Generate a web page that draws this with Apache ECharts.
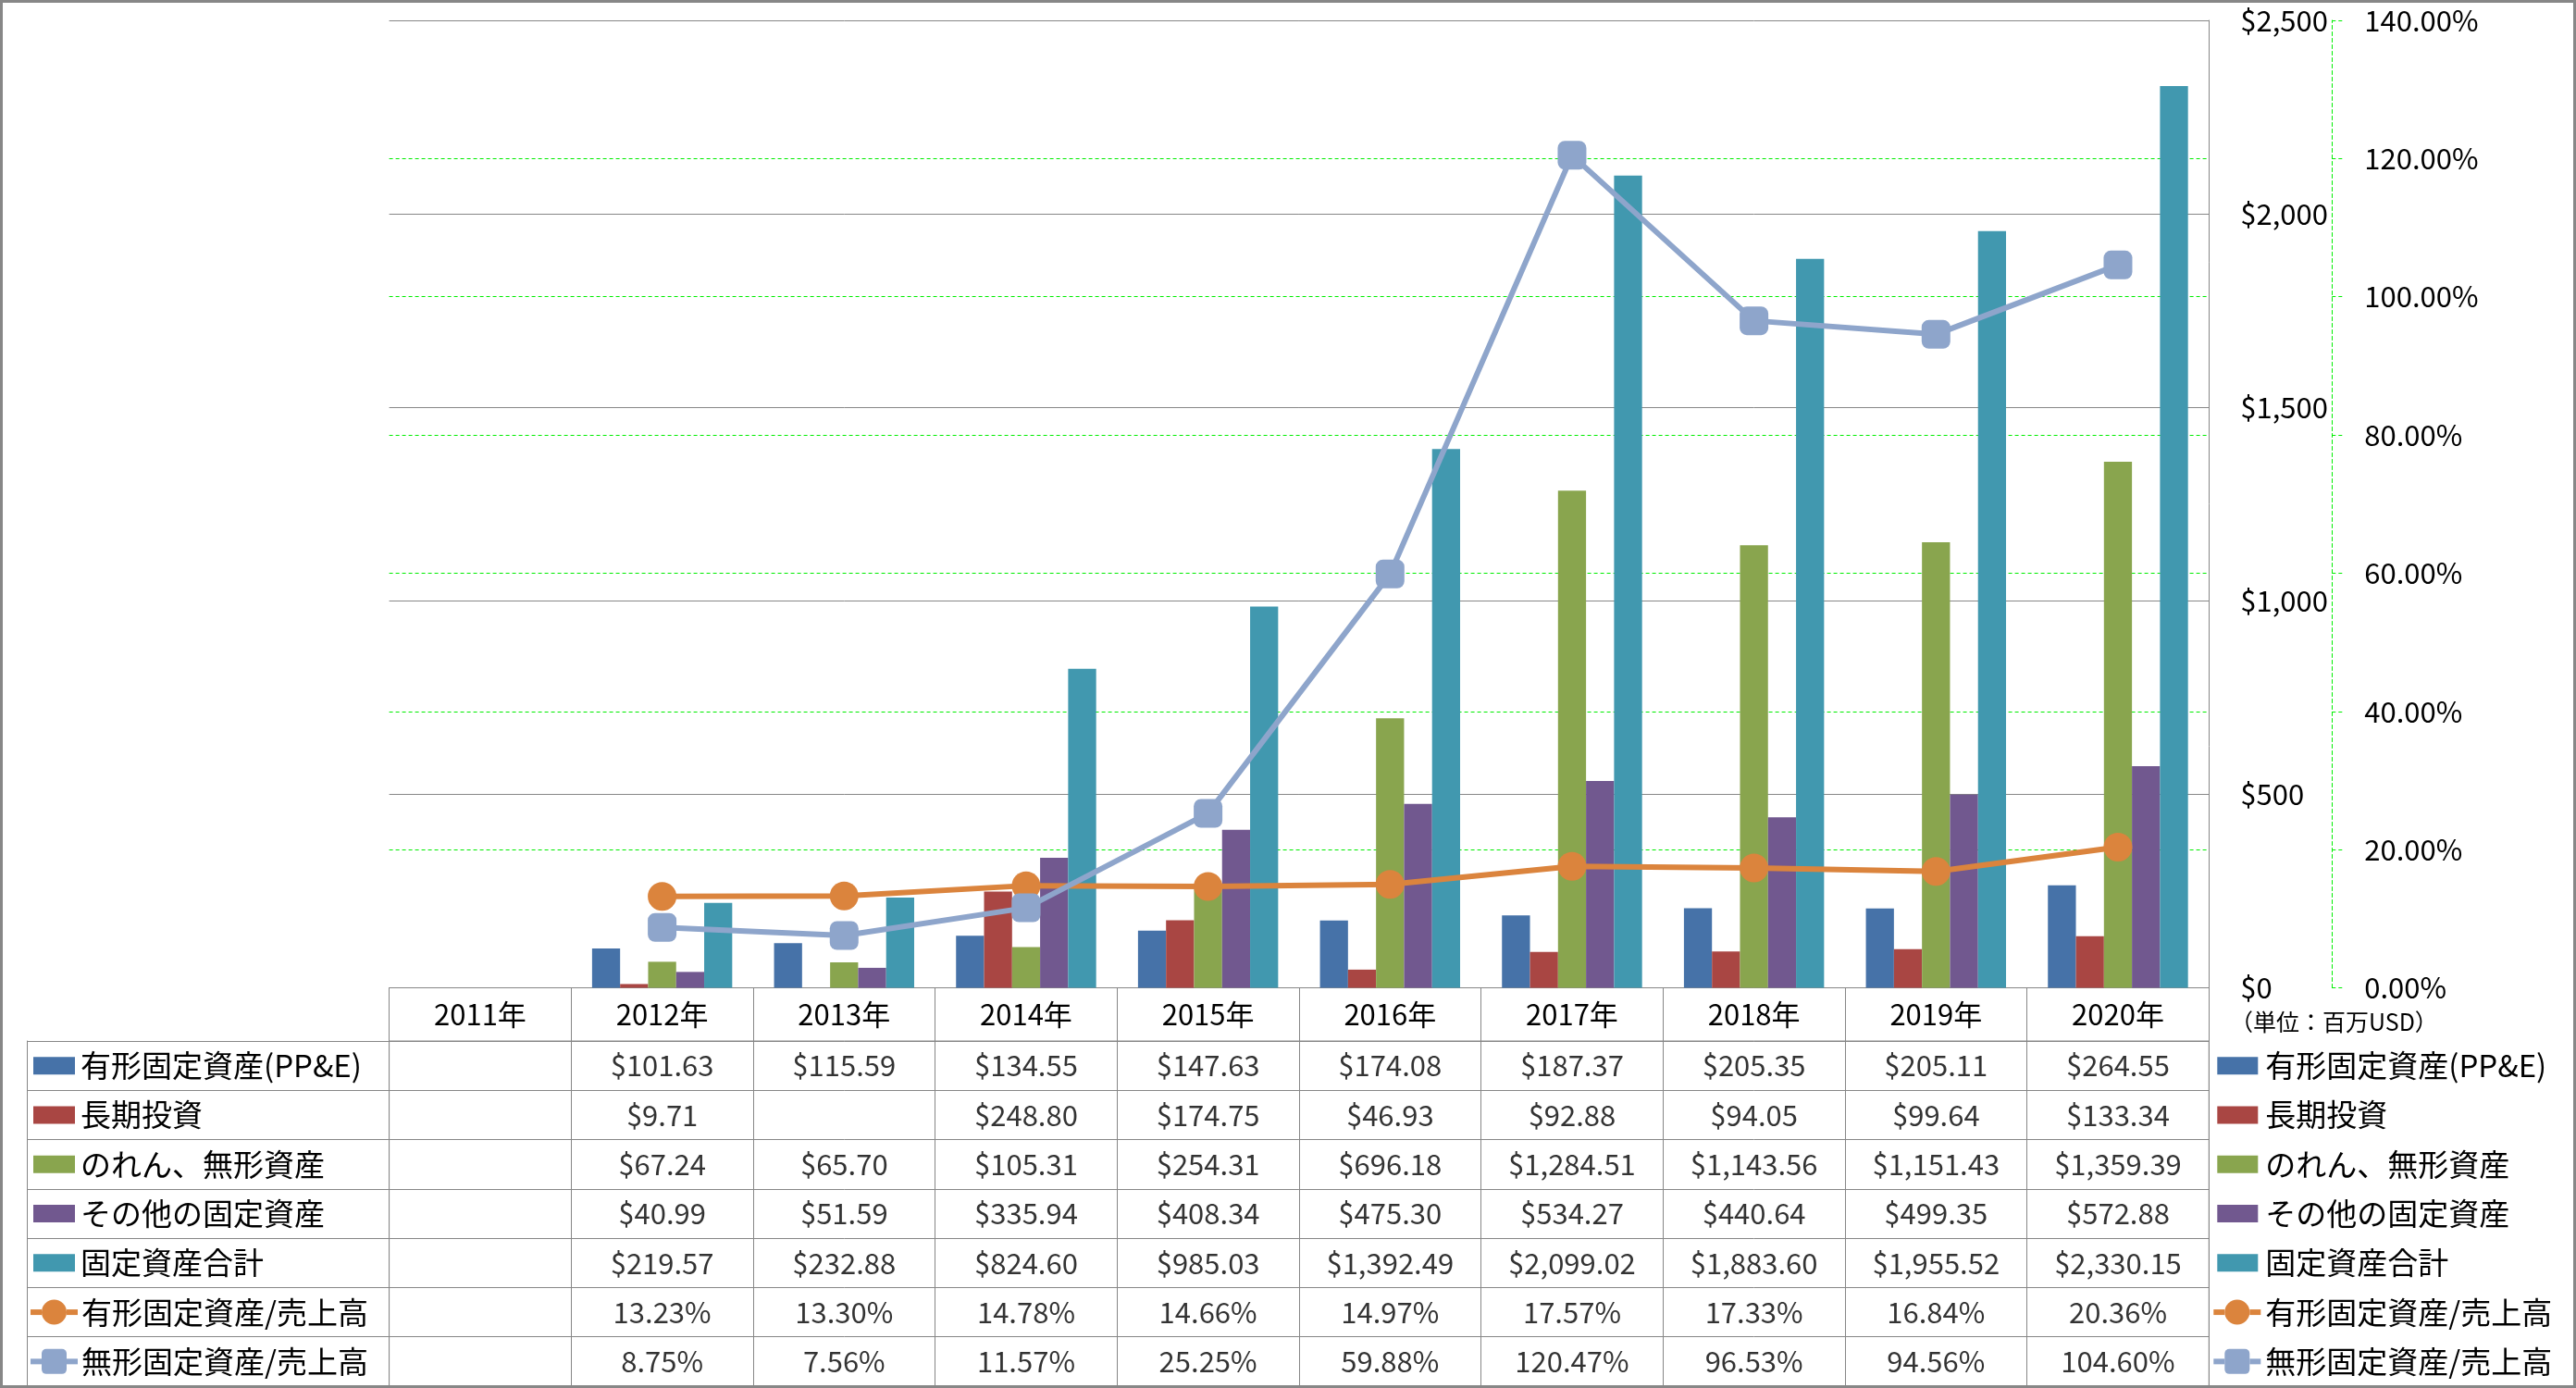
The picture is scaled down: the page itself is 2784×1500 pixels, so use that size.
<!DOCTYPE html>
<html><head><meta charset="utf-8">
<script src="https://cdn.jsdelivr.net/npm/echarts@6/dist/echarts.min.js"></script>
<style>html,body{margin:0;padding:0;background:#fff}#c{width:2784px;height:1500px}</style>
</head><body><div id="c"></div>
<script>
// ---- data ----
const years = ['2011年','2012年','2013年','2014年','2015年','2016年','2017年','2018年','2019年','2020年'];
const ppe        = [null, 101.63, 115.59, 134.55, 147.63, 174.08, 187.37, 205.35, 205.11, 264.55];
const ltInvest   = [null, 9.71, null, 248.80, 174.75, 46.93, 92.88, 94.05, 99.64, 133.34];
const goodwill   = [null, 67.24, 65.70, 105.31, 254.31, 696.18, 1284.51, 1143.56, 1151.43, 1359.39];
const otherFixed = [null, 40.99, 51.59, 335.94, 408.34, 475.30, 534.27, 440.64, 499.35, 572.88];
const totalFixed = [null, 219.57, 232.88, 824.60, 985.03, 1392.49, 2099.02, 1883.60, 1955.52, 2330.15];
const ppeRatio        = [null, 13.23, 13.30, 14.78, 14.66, 14.97, 17.57, 17.33, 16.84, 20.36];
const intangibleRatio = [null, 8.75, 7.56, 11.57, 25.25, 59.88, 120.47, 96.53, 94.56, 104.60];
const seriesNames = ['有形固定資産(PP&E)','長期投資','のれん、無形資産','その他の固定資産','固定資産合計','有形固定資産/売上高','無形固定資産/売上高'];
const usdTicks = [0, 500, 1000, 1500, 2000, 2500];
const pctTicks = [0, 20, 40, 60, 80, 100, 120, 140];
const unitLabel = '（単位：百万USD）';

// ---- style ----
const FONT = '"Noto Sans CJK JP","Noto Sans",sans-serif';
const colors = ['#4672A8','#A94643','#89A54E','#71588F','#4198AF','#DB843D','#8EA5CB'];
const GREY = '#878787';
const GREEN = '#00EE00';

const fmtUsd = v => '$' + v.toLocaleString('en-US', {minimumFractionDigits: 2, maximumFractionDigits: 2});
const fmtPct = v => v.toFixed(2) + '%';

const barData = [ppe, ltInvest, goodwill, otherFixed, totalFixed];
const lineData = [ppeRatio, intangibleRatio];
const allRows = barData.concat(lineData);

// table cells
const cells = [];
allRows.forEach((arr, r) => arr.forEach((v, c) => {
  if (v != null) cells.push({name: r < 5 ? fmtUsd(v) : fmtPct(v), value: [c, r]});
}));

// rich legend keys
const rich = {
  t: {fontSize: 33, fontFamily: FONT, color: '#000', verticalAlign: 'middle', lineHeight: 40},
  p3: {width: 3, height: 2}, p4: {width: 4, height: 2},
  g4: {width: 4, height: 2}, g5: {width: 5, height: 2}, g6: {width: 6, height: 2}, g8: {width: 8, height: 2}
};
for (let i = 0; i < 5; i++) {
  rich['b' + i] = {width: 45, height: 19, backgroundColor: colors[i], verticalAlign: 'middle'};
  rich['B' + i] = {width: 44, height: 19, backgroundColor: colors[i], verticalAlign: 'middle'};
}
[5, 6].forEach(i => {
  rich['l' + i] = {width: 12, height: 6, backgroundColor: colors[i], verticalAlign: 'middle'};
  rich['m' + i] = {width: 27, height: 27, borderRadius: i === 5 ? 13.5 : 5, backgroundColor: colors[i], verticalAlign: 'middle'};
});
const leftFmt = (value, idx) => idx < 5
  ? `{p3|}{b${idx}|}{g6|}{t|${value}}`
  : `{l${idx}|}{m${idx}|}{l${idx}|}{g4|}{t|${value}}`;
const rightFmt = (value, idx) => idx < 5
  ? `{p4|}{B${idx}|}{g8|}{t|${value}}`
  : `{l${idx}|}{m${idx}|}{l${idx}|}{g5|}{t|${value}}`;

const GL = 420.6, GR = 2784 - 2387.3;

const option = {
  animation: false,
  backgroundColor: '#fff',
  textStyle: {fontFamily: FONT},
  title: {text: unitLabel, left: 2410, top: 1092, padding: 0,
    textStyle: {fontSize: 25, fontWeight: 'normal', color: '#000', fontFamily: FONT}},
  grid: [
    {left: GL, right: GR, top: 22, bottom: 1500 - 1067.5, outerBoundsMode: 'none', containLabel: false},
    {left: GL, right: GR, top: 1125, bottom: 2, show: true, borderColor: GREY, borderWidth: 1,
     outerBoundsMode: 'none', containLabel: false}
  ],
  xAxis: [
    {type: 'category', gridIndex: 0, data: years, position: 'bottom',
     axisLine: {show: true, lineStyle: {color: GREY, width: 1}},
     axisTick: {show: true, interval: 0, length: 57.5, lineStyle: {color: GREY, width: 1}},
     axisLabel: {interval: 0, margin: 0, fontSize: 31, lineHeight: 57, color: '#000', fontFamily: FONT, verticalAlign: 'top'},
     splitLine: {show: false}},
    {type: 'category', gridIndex: 1, data: years,
     axisLine: {show: false}, axisTick: {show: false}, axisLabel: {show: false},
     splitLine: {show: true, interval: 0, lineStyle: {color: GREY, width: 1}}}
  ],
  yAxis: [
    {type: 'value', gridIndex: 0, position: 'right', min: usdTicks[0], max: usdTicks[usdTicks.length - 1],
     interval: usdTicks[1] - usdTicks[0],
     axisLine: {show: true, lineStyle: {color: GREY, width: 1}},
     axisTick: {show: false},
     axisLabel: {margin: 34, fontSize: 31, color: '#000', fontFamily: FONT,
       formatter: v => '$' + v.toLocaleString('en-US')},
     splitLine: {show: true, lineStyle: {color: GREY, width: 1}}},
    {type: 'value', gridIndex: 0, position: 'right', offset: 133, min: pctTicks[0], max: pctTicks[pctTicks.length - 1],
     interval: pctTicks[1] - pctTicks[0],
     axisLine: {show: true, lineStyle: {color: GREEN, width: 1, type: [4, 3]}},
     axisTick: {show: true, length: 12, lineStyle: {color: GREEN, width: 1, type: [4, 3]}},
     axisLabel: {margin: 35, fontSize: 31, color: '#000', fontFamily: FONT, formatter: v => fmtPct(v)},
     splitLine: {show: true, showMinLine: false, showMaxLine: false, lineStyle: {color: GREEN, width: 1, type: [4, 3]}}},
    {type: 'category', gridIndex: 1, data: seriesNames, inverse: true, position: 'left',
     axisLine: {show: false},
     axisTick: {show: true, interval: 0, length: 391.6, lineStyle: {color: GREY, width: 1}},
     axisLabel: {interval: 0, align: 'left', margin: GL - 33, formatter: leftFmt, rich: rich},
     splitLine: {show: true, interval: 0, lineStyle: {color: GREY, width: 1}}},
    {type: 'category', gridIndex: 1, data: seriesNames, inverse: true, position: 'left', offset: 391.6,
     axisLine: {show: true, lineStyle: {color: GREY, width: 1}},
     axisTick: {show: false}, axisLabel: {show: false}, splitLine: {show: false}},
    {type: 'category', gridIndex: 1, data: seriesNames, inverse: true, position: 'right',
     axisLine: {show: false}, axisTick: {show: false},
     axisLabel: {interval: 0, align: 'left', margin: 5, formatter: rightFmt, rich: rich},
     splitLine: {show: false}}
  ],
  series: [
    ...barData.map((d, i) => ({
      name: seriesNames[i], type: 'bar', xAxisIndex: 0, yAxisIndex: 0, data: d,
      barGap: '0%', barCategoryGap: '23%', itemStyle: {color: colors[i]}, silent: true
    })),
    ...lineData.map((d, j) => ({
      name: seriesNames[5 + j], type: 'line', xAxisIndex: 0, yAxisIndex: 1, data: d,
      symbol: j === 0 ? 'circle' : 'roundRect', symbolSize: 31, showSymbol: true,
      lineStyle: {color: colors[5 + j], width: 6}, itemStyle: {color: colors[5 + j]},
      connectNulls: false, z: 5, silent: true
    })),
    {type: 'scatter', xAxisIndex: 1, yAxisIndex: 2, data: cells, symbolSize: 1,
     itemStyle: {color: 'rgba(0,0,0,0)'}, silent: true,
     label: {show: true, position: 'inside', formatter: p => p.name, fontSize: 31, color: '#000', fontFamily: FONT}}
  ],
  graphic: [
    {type: 'rect', silent: true, z: 100, shape: {x: 1.5, y: 1.5, width: 2781, height: 1497},
     style: {fill: null, stroke: GREY, lineWidth: 3}}
  ]
};
const chart = echarts.init(document.getElementById('c'), null, {renderer: 'canvas'});
chart.setOption(option);
</script></body></html>
